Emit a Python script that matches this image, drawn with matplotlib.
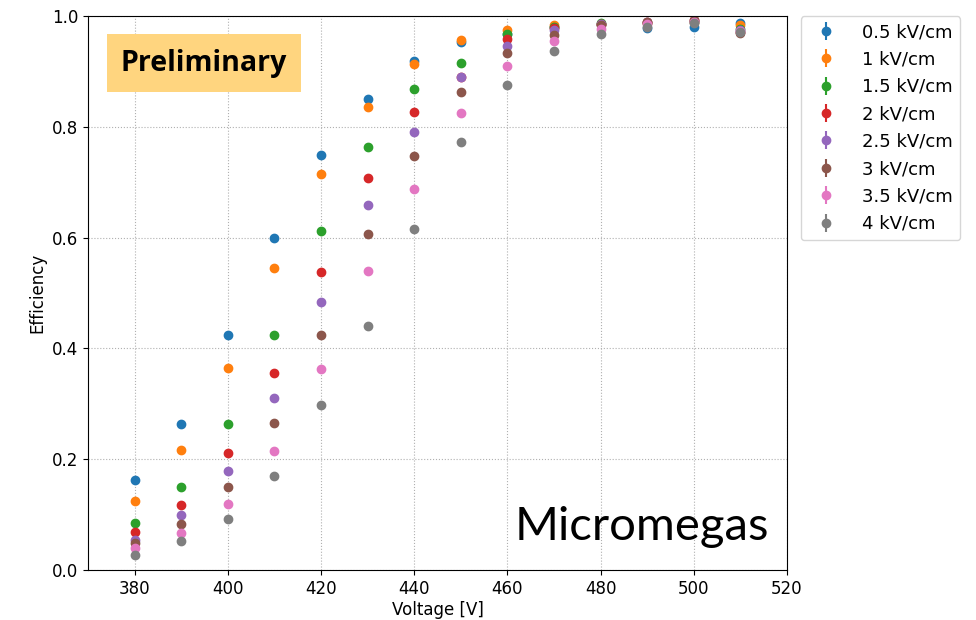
import matplotlib
matplotlib.use("Agg")
import matplotlib.pyplot as plt
import numpy as np

voltage = [380, 390, 400, 410, 420, 430, 440, 450, 460, 470, 480, 490, 500, 510]

field_labels = ["0.5 kV/cm", "1 kV/cm", "1.5 kV/cm", "2 kV/cm",
                "2.5 kV/cm", "3 kV/cm", "3.5 kV/cm", "4 kV/cm"]

eff_05 = [0.162, 0.264, 0.425, 0.599, 0.750, 0.850, 0.919, 0.953, 0.968, 0.980, 0.985, 0.979, 0.980, 0.988]
eff_10 = [0.125, 0.216, 0.365, 0.545, 0.714, 0.836, 0.913, 0.956, 0.975, 0.983, 0.985, 0.988, 0.990, 0.984]
eff_15 = [0.084, 0.150, 0.263, 0.425, 0.612, 0.764, 0.868, 0.916, 0.967, 0.981, 0.988, 0.988, 0.990, 0.977]
eff_20 = [0.068, 0.117, 0.212, 0.356, 0.538, 0.707, 0.827, 0.889, 0.958, 0.978, 0.985, 0.990, 0.992, 0.972]
eff_25 = [0.055, 0.099, 0.179, 0.310, 0.483, 0.659, 0.790, 0.889, 0.946, 0.975, 0.986, 0.989, 0.991, 0.974]
eff_30 = [0.048, 0.083, 0.149, 0.265, 0.425, 0.606, 0.747, 0.862, 0.933, 0.966, 0.983, 0.990, 0.993, 0.970]
eff_35 = [0.039, 0.067, 0.119, 0.215, 0.363, 0.540, 0.688, 0.825, 0.909, 0.955, 0.977, 0.986, 0.990, 0.973]
eff_40 = [0.028, 0.052, 0.093, 0.169, 0.297, 0.441, 0.615, 0.772, 0.876, 0.937, 0.967, 0.981, 0.988, 0.972]

series = [eff_05, eff_10, eff_15, eff_20, eff_25, eff_30, eff_35, eff_40]
eff_error = 0.004

fig = plt.figure(figsize=(9.76, 6.2), dpi=100)
ax = fig.add_axes([0.0902, 0.0806, 0.7160, 0.8936])

for vals, lab in zip(series, field_labels):
    ax.errorbar(voltage, vals, yerr=eff_error, fmt="o", ms=6, label=lab)

ax.set_xlim(370, 520)
ax.set_ylim(0.0, 1.0)
ax.set_xticks(np.arange(380, 521, 20))
ax.set_yticks(np.arange(0.0, 1.01, 0.2))
ax.tick_params(labelsize=12)
ax.set_xlabel("Voltage [V]", fontsize=12, labelpad=2)
ax.set_ylabel("Efficiency", fontsize=12)
ax.grid(True, linestyle=":", color="#b0b0b0", linewidth=0.8)

ax.legend(loc="upper left", bbox_to_anchor=(1.02, 1.0), fontsize=13,
          borderaxespad=0.0, handletextpad=1.0, labelspacing=0.52)

ax.text(0.047, 0.915, "Preliminary", transform=ax.transAxes, fontsize=20.5,
        fontweight="bold", family="Open Sans", va="center", ha="left",
        bbox=dict(boxstyle="square,pad=0.5", facecolor="#FFD57F", edgecolor="none"))

ax.text(0.975, 0.077, "Micromegas", transform=ax.transAxes, fontsize=34,
        family="Lato", ha="right", va="center")

fig.savefig("out.png", dpi=100)
